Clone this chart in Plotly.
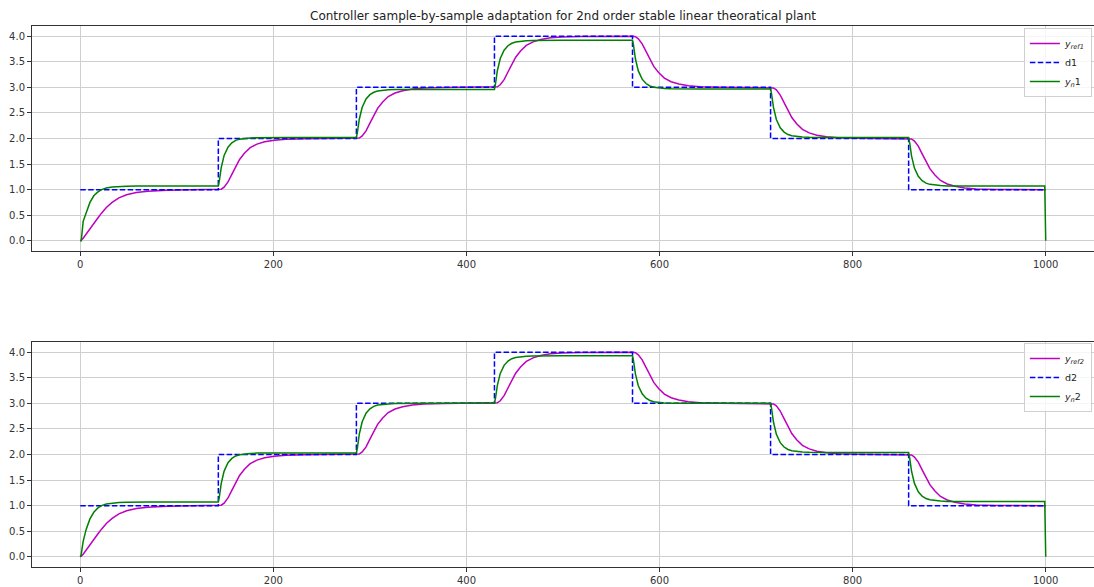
import plotly.graph_objects as go

# sample positions (knots)
x_samples = [
    0, 1, 3, 6, 10, 14, 18, 22, 27, 33, 40, 48, 58, 70, 90, 115, 142,
    143, 144, 146, 149, 153, 157, 161, 165, 170, 176, 183, 191, 201, 213, 233, 258, 285,
    286, 287, 289, 292, 296, 300, 304, 308, 313, 319, 326, 334, 344, 356, 376, 401, 428,
    429, 430, 432, 435, 439, 443, 447, 451, 456, 462, 469, 477, 487, 499, 519, 544, 571,
    572, 573, 575, 578, 582, 586, 590, 594, 599, 605, 612, 620, 630, 642, 662, 687, 714,
    715, 716, 718, 721, 725, 729, 733, 737, 742, 748, 755, 763, 773, 785, 805, 830, 857,
    858, 859, 861, 864, 868, 872, 876, 880, 885, 891, 898, 906, 916, 928, 948, 973, 999,
    1000,
]

y_ref1 = [
    0, 0.01, 0.05, 0.13, 0.25, 0.35, 0.44, 0.54, 0.65, 0.75, 0.84, 0.9, 0.945, 0.97, 0.99, 1.0, 1.0,
    1.0, 1.0, 1.01, 1.05, 1.15, 1.3, 1.45, 1.59, 1.71, 1.82, 1.89, 1.935, 1.968, 1.986, 1.996, 2.0, 2.0,
    2.0, 2.0, 2.01, 2.05, 2.15, 2.3, 2.45, 2.59, 2.71, 2.82, 2.89, 2.935, 2.968, 2.986, 2.996, 3.0, 3.0,
    3.0, 3.0, 3.01, 3.05, 3.15, 3.3, 3.45, 3.59, 3.71, 3.82, 3.89, 3.935, 3.968, 3.986, 3.996, 4.0, 4.0,
    4.0, 4.0, 3.99, 3.95, 3.85, 3.7, 3.55, 3.41, 3.29, 3.18, 3.11, 3.065, 3.032, 3.014, 3.004, 3.0, 3.0,
    3.0, 3.0, 2.99, 2.95, 2.85, 2.7, 2.55, 2.41, 2.29, 2.18, 2.11, 2.065, 2.032, 2.014, 2.004, 2.0, 2.0,
    2.0, 2.0, 1.99, 1.95, 1.85, 1.7, 1.55, 1.41, 1.29, 1.18, 1.11, 1.065, 1.032, 1.014, 1.004, 1.0, 1.0,
    1.0,
]
y_ref2 = list(y_ref1)

y_n1 = [
    0, 0, 0.38, 0.55, 0.75, 0.88, 0.95, 1.0, 1.03, 1.05, 1.06, 1.065, 1.07, 1.07, 1.07, 1.07, 1.07,
    1.07, 1.165, 1.43, 1.67, 1.83, 1.915, 1.963, 1.987, 2.001, 2.01, 2.017, 2.02, 2.02, 2.02, 2.02, 2.02, 2.02,
    2.02, 2.114, 2.377, 2.612, 2.772, 2.857, 2.904, 2.927, 2.941, 2.951, 2.957, 2.96, 2.96, 2.96, 2.96, 2.96, 2.96,
    2.96, 3.056, 3.325, 3.565, 3.728, 3.814, 3.862, 3.886, 3.901, 3.91, 3.917, 3.92, 3.92, 3.92, 3.92, 3.92, 3.92,
    3.92, 3.825, 3.559, 3.322, 3.16, 3.075, 3.027, 3.003, 2.989, 2.98, 2.973, 2.97, 2.97, 2.97, 2.97, 2.97, 2.97,
    2.97, 2.875, 2.609, 2.372, 2.21, 2.125, 2.077, 2.053, 2.039, 2.03, 2.023, 2.02, 2.02, 2.02, 2.02, 2.02, 2.02,
    2.02, 1.925, 1.659, 1.422, 1.26, 1.175, 1.127, 1.103, 1.089, 1.08, 1.073, 1.07, 1.07, 1.07, 1.07, 1.07, 1.07,
    0,
]

y_n2 = [
    0, 0.05, 0.3, 0.53, 0.74, 0.87, 0.95, 1.0, 1.03, 1.05, 1.06, 1.065, 1.07, 1.07, 1.07, 1.07, 1.07,
    1.07, 1.166, 1.435, 1.675, 1.838, 1.924, 1.972, 1.996, 2.011, 2.02, 2.027, 2.03, 2.03, 2.03, 2.03, 2.03, 2.03,
    2.03, 2.127, 2.399, 2.641, 2.806, 2.893, 2.942, 2.966, 2.981, 2.99, 2.997, 3.0, 3.0, 3.0, 3.0, 3.0, 3.0,
    3.0, 3.093, 3.353, 3.586, 3.744, 3.828, 3.874, 3.897, 3.911, 3.921, 3.927, 3.93, 3.93, 3.93, 3.93, 3.93, 3.93,
    3.93, 3.837, 3.577, 3.344, 3.186, 3.102, 3.056, 3.033, 3.019, 3.009, 3.003, 3.0, 3.0, 3.0, 3.0, 3.0, 3.0,
    3.0, 2.904, 2.635, 2.395, 2.232, 2.146, 2.098, 2.074, 2.059, 2.05, 2.043, 2.04, 2.04, 2.04, 2.04, 2.04, 2.04,
    2.04, 1.944, 1.675, 1.435, 1.272, 1.186, 1.138, 1.114, 1.099, 1.09, 1.083, 1.08, 1.08, 1.08, 1.08, 1.08, 1.08,
    0,
]

# desired output (piecewise constant)
d_x = [0, 143, 286, 429, 572, 715, 858, 1000]
d1 = [1, 2, 3, 4, 3, 2, 1, 1]
d2 = [1, 2, 3, 4, 3, 2, 1, 1]

title_text = "Controller sample-by-sample adaptation for 2nd order stable linear theoratical plant"
x_ticks = [0, 200, 400, 600, 800, 1000]
y_ticks = [0.0, 0.5, 1.0, 1.5, 2.0, 2.5, 3.0, 3.5, 4.0]

MAG = "#bf00bf"
BLUE = "#0000ff"
GREEN = "#008000"
FONT = "DejaVu Sans"

fig = go.Figure()

def add_set(xa, ya, legend, yref, d, yn, idx):
    fig.add_trace(go.Scatter(x=x_samples, y=yref, mode="lines", xaxis=xa, yaxis=ya,
                             line=dict(color=MAG, width=1.5), legend=legend,
                             name=f"<i>y</i><sub><i>ref{idx}</i></sub>"))
    fig.add_trace(go.Scatter(x=d_x, y=d, mode="lines", xaxis=xa, yaxis=ya, line_shape="hv",
                             line=dict(color=BLUE, width=1.5, dash="5.5px,2.4px"), legend=legend,
                             name=f"d{idx}"))
    fig.add_trace(go.Scatter(x=x_samples, y=yn, mode="lines", xaxis=xa, yaxis=ya,
                             line=dict(color=GREEN, width=1.5), legend=legend,
                             name=f"<i>y</i><sub><i>n</i></sub>{idx}"))

add_set("x", "y", "legend", y_ref1, d1, y_n1, 1)
add_set("x2", "y2", "legend2", y_ref2, d2, y_n2, 2)

H = 587
x_common = dict(
    showline=True, mirror=True, linecolor="#333333", linewidth=1,
    showgrid=True, gridcolor="#cfcfcf", gridwidth=1,
    ticks="outside", ticklen=4, tickcolor="#333333", tickwidth=1,
    tickfont=dict(family=FONT, size=10, color="#333333"),
    zeroline=False,
)
y_common = dict(x_common)
y_common["mirror"] = False

xr = [-50, 1050]
yr = [-0.2, 4.2]

legend_common = dict(
    bgcolor="rgba(255,255,255,0.8)", bordercolor="#d0d0d0", borderwidth=1,
    font=dict(family=FONT, size=9.5, color="#222222"),
    xanchor="right", yanchor="top", itemwidth=30, tracegroupgap=0,
)

fig.update_layout(
    width=1094, height=587,
    paper_bgcolor="white", plot_bgcolor="white",
    margin=dict(l=32, r=0, t=0, b=0),
    showlegend=True,
    title=dict(text=title_text, x=(563 - 32) / 1062, xanchor="center", y=1 - 16 / H, yanchor="middle",
               xref="paper",
               font=dict(family=FONT, size=12, color="#222222")),
    xaxis=dict(domain=[0, 1], range=xr, tickvals=x_ticks, anchor="y", **x_common),
    yaxis=dict(domain=[1 - 251 / H, 1 - 26 / H], range=yr, tickvals=y_ticks,
               tickformat=".1f", anchor="x", **y_common),
    xaxis2=dict(domain=[0, 1], range=xr, tickvals=x_ticks, anchor="y2", **x_common),
    yaxis2=dict(domain=[1 - 567 / H, 1 - 342 / H], range=yr, tickvals=y_ticks,
                tickformat=".1f", anchor="x2", **y_common),
    legend=dict(x=0.998, y=1 - 28 / H, **legend_common),
    legend2=dict(x=0.998, y=1 - 343 / H, **legend_common),
)

fig.write_html("out.html")
